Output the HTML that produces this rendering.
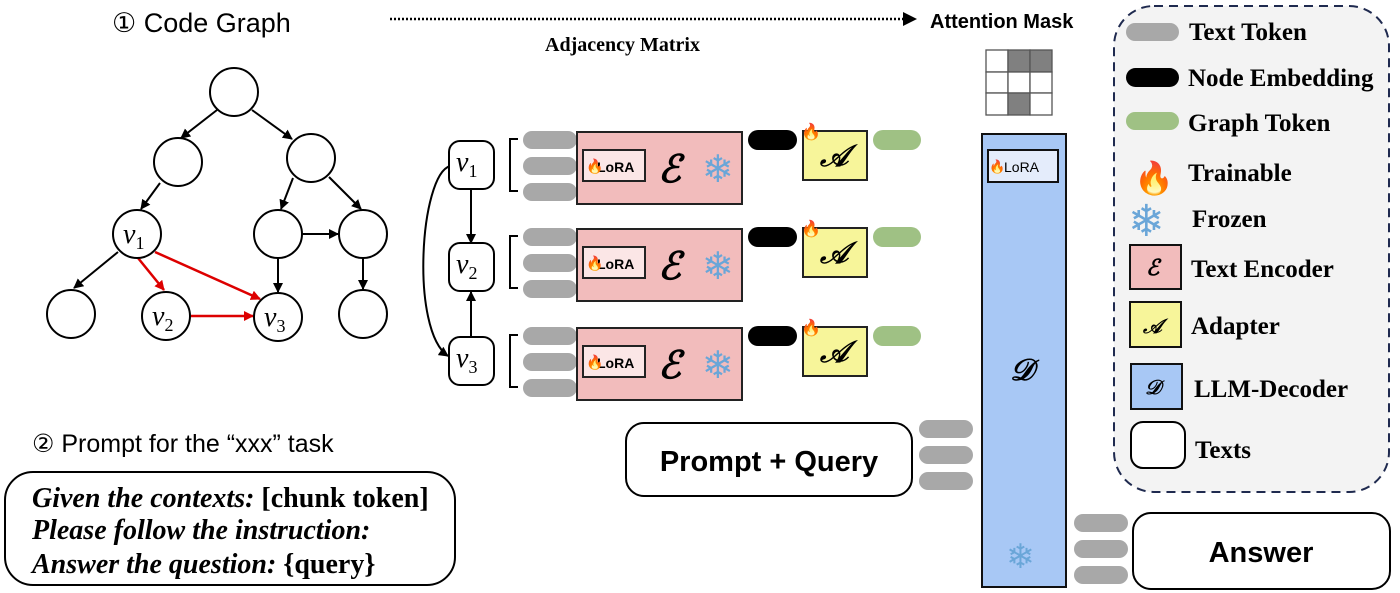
<!DOCTYPE html>
<html><head><meta charset="utf-8"><style>
html,body{margin:0;padding:0;background:#fff;}
svg{display:block}
.sans{font-family:"Liberation Sans","DejaVu Sans",sans-serif;}
.serif{font-family:"Liberation Serif",serif;}
</style></head><body>
<svg width="1400" height="593" viewBox="0 0 1400 593" xmlns="http://www.w3.org/2000/svg">
<defs>
<marker id="ab" markerWidth="10" markerHeight="10" refX="9" refY="5" orient="auto" markerUnits="userSpaceOnUse"><path d="M0,0 L10,5 L0,10 z" fill="#000"/></marker>
<marker id="ar" markerWidth="10" markerHeight="10" refX="9" refY="5" orient="auto" markerUnits="userSpaceOnUse"><path d="M0,0 L10,5 L0,10 z" fill="#d00"/></marker>
<g id="pills"><rect x="0" y="-35" width="54" height="18" rx="9" fill="#a8a8a8"/><rect x="0" y="-9" width="54" height="18" rx="9" fill="#a8a8a8"/><rect x="0" y="17" width="54" height="18" rx="9" fill="#a8a8a8"/></g>
</defs>

<text x="112" y="32" class="sans" font-size="27" fill="#000">① Code Graph</text>
<line x1="390" y1="19" x2="905" y2="19" stroke="#000" stroke-width="2.5" stroke-dasharray="2,2"/>
<path d="M903,12 L917,19 L903,26 z" fill="#000"/>
<text x="545" y="51" class="serif" font-size="20" font-weight="bold">Adjacency Matrix</text>
<text x="930" y="28" class="sans" font-size="20" font-weight="bold">Attention Mask</text>

<g stroke="#000" stroke-width="2" fill="none" marker-end="url(#ab)">
<line x1="217" y1="110" x2="181" y2="138"/>
<line x1="252" y1="110" x2="292" y2="139"/>
<line x1="160" y1="183" x2="141" y2="209"/>
<line x1="293" y1="178" x2="281" y2="209"/>
<line x1="329" y1="177" x2="361" y2="209"/>
<line x1="302" y1="234" x2="338" y2="234"/>
<line x1="278" y1="258" x2="278" y2="292"/>
<line x1="363" y1="258" x2="363" y2="289"/>
<line x1="118" y1="252" x2="74" y2="288"/>
</g>
<g stroke="#d00" stroke-width="2.5" fill="none" marker-end="url(#ar)">
<line x1="138" y1="258" x2="164" y2="290"/>
<line x1="155" y1="252" x2="260" y2="299"/>
<line x1="191" y1="316" x2="253" y2="316"/>
</g>
<g stroke="#000" stroke-width="2" fill="#fff">
<circle cx="234" cy="92" r="24"/><circle cx="178" cy="162" r="24"/><circle cx="311" cy="158" r="24"/>
<circle cx="137" cy="234" r="24"/><circle cx="278" cy="234" r="24"/><circle cx="363" cy="234" r="24"/>
<circle cx="71" cy="314" r="24"/><circle cx="166" cy="316" r="24"/><circle cx="278" cy="317" r="24"/><circle cx="363" cy="314" r="24"/>
</g>
<g class="serif" font-size="28" font-style="italic">
<text x="123" y="243">v<tspan font-size="18" font-style="normal" dy="6">1</tspan></text>
<text x="152" y="325">v<tspan font-size="18" font-style="normal" dy="6">2</tspan></text>
<text x="264" y="326">v<tspan font-size="18" font-style="normal" dy="6">3</tspan></text>
</g>

<g stroke="#000" stroke-width="2" fill="none" marker-end="url(#ab)">
<line x1="471" y1="190" x2="471" y2="243"/>
<line x1="471" y1="337" x2="471" y2="292"/>
<path d="M450,166 C420,175 410,330 448,356"/>
</g>
<g stroke="#000" stroke-width="2" fill="#fff">
<rect x="449" y="141" width="45" height="48" rx="11"/>
<rect x="449" y="243" width="45" height="48" rx="11"/>
<rect x="449" y="337" width="45" height="48" rx="11"/>
</g>
<g class="serif" font-size="28" font-style="italic">
<text x="456" y="171">v<tspan font-size="18" font-style="normal" dy="6">1</tspan></text>
<text x="456" y="273">v<tspan font-size="18" font-style="normal" dy="6">2</tspan></text>
<text x="456" y="367">v<tspan font-size="18" font-style="normal" dy="6">3</tspan></text>
</g>

<g id="row1">
<path d="M518,139 L510,139 L510,191 L518,191" fill="none" stroke="#000" stroke-width="2"/>
<use href="#pills" x="523" y="166"/>
<rect x="577" y="132" width="165" height="72" fill="#f2bcbc" stroke="#222" stroke-width="2"/>
<rect x="583" y="150" width="62" height="31" fill="#fbe6e6" stroke="#222" stroke-width="2"/>
<text x="597" y="172" class="sans" font-size="14" font-weight="bold">LoRA</text>
<text x="586" y="171" font-size="14">🔥</text>
<text x="658" y="182" class="serif" font-size="38" font-style="italic" font-weight="bold">ℰ</text>
<text x="702" y="182" font-size="38" fill="#6aa6d8" class="sans">❄</text>
<rect x="748" y="130" width="49" height="20" rx="10" fill="#000"/>
<rect x="803" y="131" width="64" height="49" fill="#f7f59a" stroke="#222" stroke-width="2"/>
<text x="820" y="166" class="serif" font-size="30" font-style="italic" font-weight="bold">𝒜</text>
<text x="801" y="137" font-size="16">🔥</text>
<rect x="873" y="130" width="48" height="20" rx="10" fill="#9fc184"/>
</g>
<use href="#row1" y="97"/>
<use href="#row1" y="196"/>

<rect x="982" y="134" width="84" height="453" fill="#a8c8f5" stroke="#111" stroke-width="2"/>
<rect x="988" y="150" width="70" height="32" fill="#e4ecfb" stroke="#111" stroke-width="2"/>
<text x="1004" y="172" class="sans" font-size="14">LoRA</text>
<text x="989" y="171" font-size="13">🔥</text>
<text x="1010" y="380" class="serif" font-size="30" font-style="italic" font-weight="bold">𝒟</text>
<text x="1006" y="568" font-size="34" fill="#6aa6d8" class="sans">❄</text>

<g stroke="#555" stroke-width="1.3">
<rect x="986" y="50" width="22" height="22" fill="#fff"/><rect x="1008" y="50" width="22" height="22" fill="#808080"/><rect x="1030" y="50" width="22" height="22" fill="#808080"/>
<rect x="986" y="72" width="22" height="21" fill="#fff"/><rect x="1008" y="72" width="22" height="21" fill="#fff"/><rect x="1030" y="72" width="22" height="21" fill="#fff"/>
<rect x="986" y="93" width="22" height="22" fill="#fff"/><rect x="1008" y="93" width="22" height="22" fill="#808080"/><rect x="1030" y="93" width="22" height="22" fill="#fff"/>
</g>

<rect x="626" y="423" width="286" height="73" rx="18" fill="#fff" stroke="#000" stroke-width="2"/>
<text x="769" y="471" class="sans" font-size="29" font-weight="bold" text-anchor="middle">Prompt + Query</text>
<use href="#pills" x="919" y="455"/>
<rect x="1133" y="513" width="257" height="76" rx="18" fill="#fff" stroke="#000" stroke-width="2"/>
<text x="1261" y="562" class="sans" font-size="29" font-weight="bold" text-anchor="middle">Answer</text>
<use href="#pills" x="1074" y="549"/>

<text x="32" y="452" class="sans" font-size="25">② Prompt for the “xxx” task</text>
<rect x="5" y="472" width="450" height="113" rx="28" fill="#fff" stroke="#000" stroke-width="2"/>
<g class="serif" font-size="28" font-weight="bold">
<text x="32" y="507"><tspan font-style="italic">Given the contexts:</tspan> [chunk token]</text>
<text x="32" y="539" font-style="italic">Please follow the instruction:</text>
<text x="32" y="573"><tspan font-style="italic">Answer the question:</tspan> {query}</text>
</g>

<rect x="1114" y="6" width="275" height="486" rx="40" fill="#f3f3f3" stroke="#1f2a4f" stroke-width="2" stroke-dasharray="9,6"/>
<rect x="1126" y="23" width="53" height="18" rx="9" fill="#a8a8a8"/>
<rect x="1126" y="68" width="53" height="19" rx="9.5" fill="#000"/>
<rect x="1126" y="112" width="53" height="18" rx="9" fill="#9fc184"/>
<text x="1134" y="189" font-size="32">🔥</text>
<text x="1128" y="236" font-size="44" fill="#6aa6d8" class="sans">❄</text>
<rect x="1130" y="245" width="51" height="44" fill="#f2bcbc" stroke="#111" stroke-width="2"/>
<text x="1146" y="275" class="serif" font-size="22" font-style="italic" font-weight="bold">ℰ</text>
<rect x="1130" y="302" width="51" height="45" fill="#f7f59a" stroke="#111" stroke-width="2"/>
<text x="1143" y="333" class="serif" font-size="20" font-style="italic" font-weight="bold">𝒜</text>
<rect x="1131" y="364" width="51" height="45" fill="#a8c8f5" stroke="#111" stroke-width="2"/>
<text x="1145" y="394" class="serif" font-size="20" font-style="italic" font-weight="bold">𝒟</text>
<rect x="1131" y="422" width="54" height="46" rx="12" fill="#fff" stroke="#000" stroke-width="2"/>
<g class="serif" font-size="25" font-weight="bold">
<text x="1189" y="40">Text Token</text>
<text x="1188" y="86">Node Embedding</text>
<text x="1188" y="131">Graph Token</text>
<text x="1188" y="181">Trainable</text>
<text x="1192" y="227">Frozen</text>
<text x="1191" y="277">Text Encoder</text>
<text x="1191" y="334">Adapter</text>
<text x="1194" y="397">LLM-Decoder</text>
<text x="1195" y="458">Texts</text>
</g>
</svg>
</body></html>
